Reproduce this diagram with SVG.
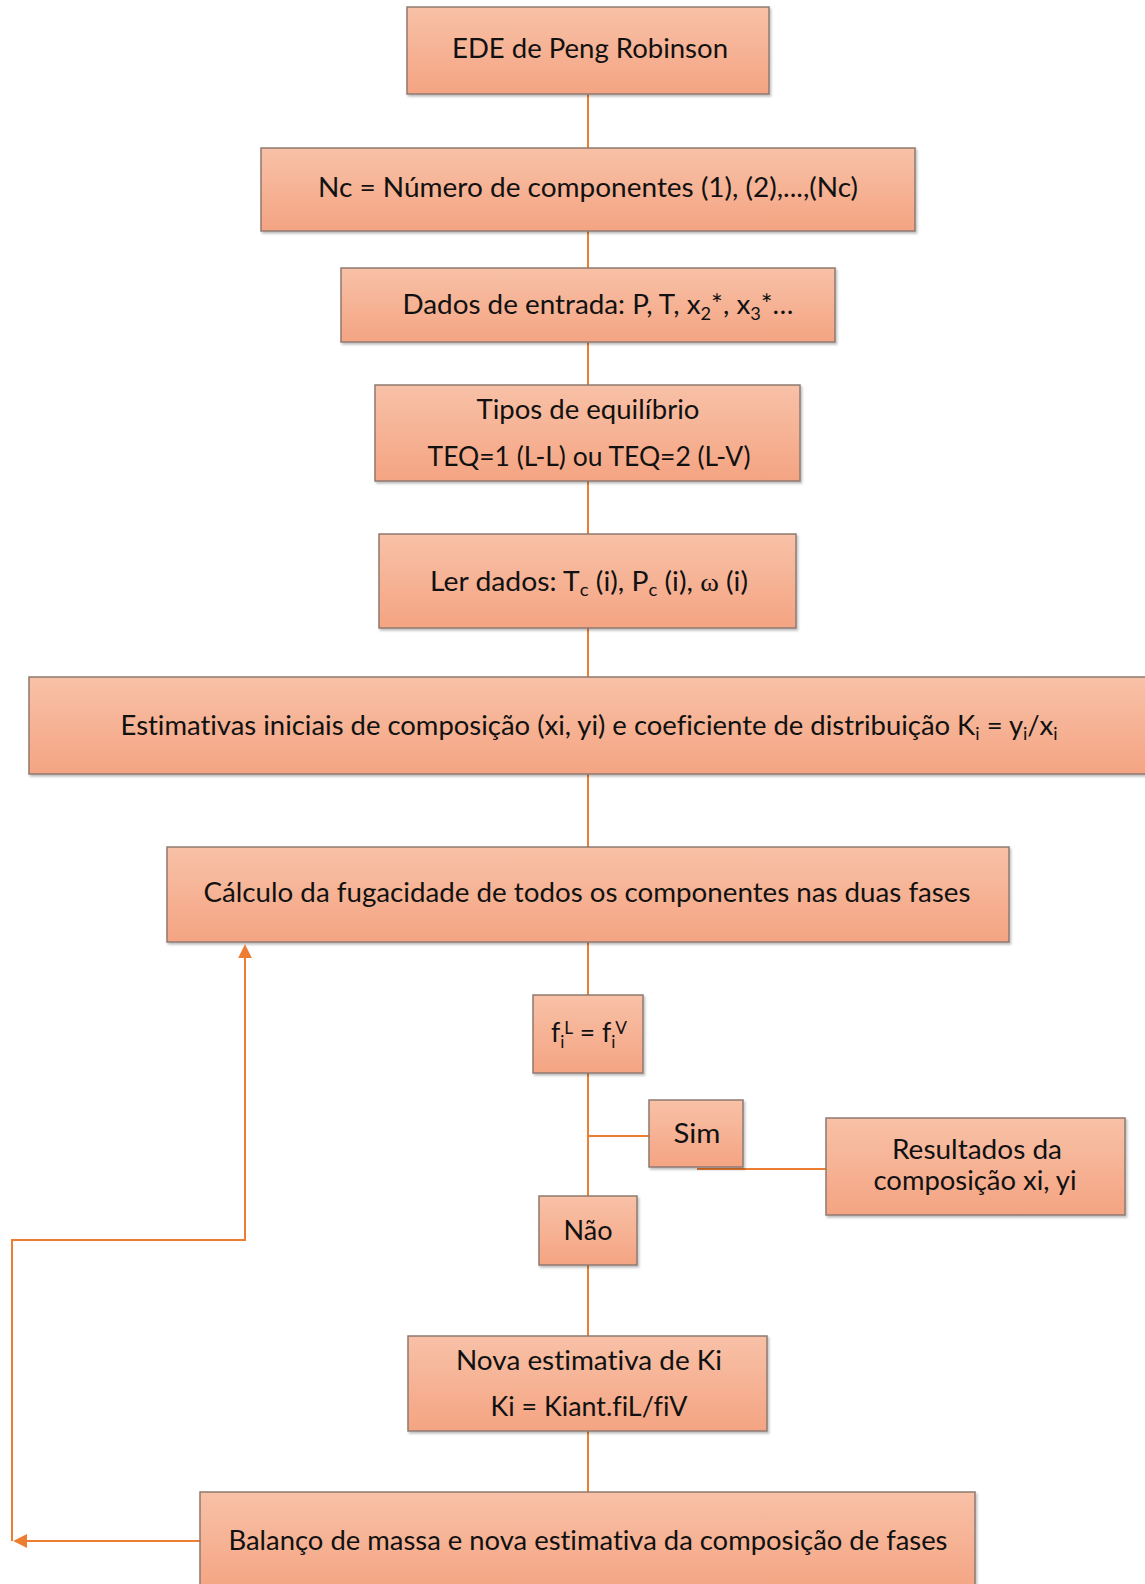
<svg xmlns="http://www.w3.org/2000/svg" width="1145" height="1584" viewBox="0 0 1145 1584">
<defs>
<linearGradient id="g" x1="0" y1="0" x2="0" y2="1">
<stop offset="0" stop-color="#f8c1a7"/>
<stop offset="1" stop-color="#f4a482"/>
</linearGradient>
<filter id="sh" x="-5%" y="-5%" width="110%" height="115%">
<feDropShadow dx="1.5" dy="2" stdDeviation="1.2" flood-color="#000" flood-opacity="0.25"/>
</filter>
<marker id="ah" viewBox="0 0 10 10" refX="8" refY="5" markerWidth="7" markerHeight="7" orient="auto-start-reverse" markerUnits="strokeWidth">
<path d="M0,0 L10,5 L0,10 z" fill="#ed7d31"/>
</marker>
<style>
.box{fill:url(#g);stroke:#8e7a70;stroke-width:1.5;filter:url(#sh)}
.t{font-family:Lato,"Open Sans","Liberation Sans",sans-serif;font-size:26px;fill:#111;text-anchor:middle;font-variant-ligatures:none}
.c{fill:none;stroke:#ed7d31;stroke-width:2}
.sub{font-size:17px}
</style>
</defs>
<rect width="1145" height="1584" fill="#fff"/>
<g id="connectors">
<path class="c" d="M588,94 V148 M588,231 V268 M588,342 V385 M588,481 V534 M588,628 V677 M588,774 V847 M588,942 V995 M588,1073 V1196 M588,1265 V1336 M588,1431 V1492"/>
<path class="c" d="M588,1136 H649"/>
<path class="c" d="M697,1169 H826"/>
<path class="c" d="M200,1541 H16" marker-end="url(#ah)"/>
<path class="c" d="M12,1541 V1240 H245 V947" marker-end="url(#ah)"/>
</g>
<g id="n1"><rect class="box" x="407" y="7" width="362" height="87"/>
<text class="t" x="590" y="58" textLength="276" lengthAdjust="spacingAndGlyphs">EDE  de Peng Robinson</text></g>
<g id="n2"><rect class="box" x="261" y="148" width="654" height="83"/>
<text class="t" x="588" y="197" textLength="540" lengthAdjust="spacingAndGlyphs">Nc = Número de componentes (1), (2),...,(Nc)</text></g>
<g id="n3"><rect class="box" x="341" y="268" width="494" height="74"/>
<text class="t" x="598" y="314" textLength="391" lengthAdjust="spacingAndGlyphs">Dados de entrada: P, T, x<tspan class="sub" dy="6">2</tspan><tspan dy="-6">*, x</tspan><tspan class="sub" dy="6">3</tspan><tspan dy="-6">*…</tspan></text></g>
<g id="n4"><rect class="box" x="375" y="385" width="425" height="96"/>
<text class="t" x="588" y="419" textLength="223" lengthAdjust="spacingAndGlyphs">Tipos de equilíbrio</text>
<text class="t" x="589" y="466" textLength="323" lengthAdjust="spacingAndGlyphs">TEQ=1 (L-L) ou TEQ=2 (L-V)</text></g>
<g id="n5"><rect class="box" x="379" y="534" width="417" height="94"/>
<text class="t" x="589" y="591" textLength="318" lengthAdjust="spacingAndGlyphs">Ler dados: T<tspan class="sub" dy="5">c</tspan><tspan dy="-5"> (i), P</tspan><tspan class="sub" dy="5">c</tspan><tspan dy="-5"> (i), </tspan><tspan font-family="'Liberation Serif',serif">ω</tspan> (i)</text></g>
<g id="n6"><rect class="box" x="29" y="677" width="1120" height="97"/>
<text class="t" x="589" y="735" textLength="937" lengthAdjust="spacingAndGlyphs">Estimativas iniciais de composição (xi, yi) e coeficiente de distribuição  K<tspan class="sub" dy="5">i</tspan><tspan dy="-5"> = y</tspan><tspan class="sub" dy="5">i</tspan><tspan dy="-5">/x</tspan><tspan class="sub" dy="5">i</tspan></text></g>
<g id="n7"><rect class="box" x="167" y="847" width="842" height="95"/>
<text class="t" x="587" y="902" textLength="767" lengthAdjust="spacingAndGlyphs">Cálculo da fugacidade  de todos os componentes  nas duas fases</text></g>
<g id="n8"><rect class="box" x="533" y="995" width="110" height="78"/>
<text class="t" x="589" y="1042" textLength="76" lengthAdjust="spacingAndGlyphs">f<tspan class="sub" dy="6">i</tspan><tspan class="sub" dy="-14">L</tspan><tspan dy="8"> = f</tspan><tspan class="sub" dy="6">i</tspan><tspan class="sub" dy="-14">V</tspan></text></g>
<g id="n9"><rect class="box" x="649" y="1100" width="94" height="67"/>
<text class="t" x="697" y="1143" textLength="47" lengthAdjust="spacingAndGlyphs">Sim</text></g>
<g id="n10"><rect class="box" x="826" y="1118" width="299" height="97"/>
<text class="t" x="977" y="1159" textLength="170" lengthAdjust="spacingAndGlyphs">Resultados da</text>
<text class="t" x="975" y="1190" textLength="203" lengthAdjust="spacingAndGlyphs">composição xi, yi</text></g>
<g id="n11"><rect class="box" x="539" y="1196" width="98" height="69"/>
<text class="t" x="588" y="1240" textLength="49" lengthAdjust="spacingAndGlyphs">Não</text></g>
<g id="n12"><rect class="box" x="408" y="1336" width="359" height="95"/>
<text class="t" x="589" y="1370" textLength="266" lengthAdjust="spacingAndGlyphs">Nova estimativa de  Ki</text>
<text class="t" x="589" y="1416" textLength="197" lengthAdjust="spacingAndGlyphs">Ki = Kiant.fiL/fiV</text></g>
<g id="n13"><rect class="box" x="200" y="1492" width="775" height="100"/>
<text class="t" x="588" y="1550" textLength="719" lengthAdjust="spacingAndGlyphs">Balanço de massa e nova estimativa da composição de fases</text></g>
</svg>
